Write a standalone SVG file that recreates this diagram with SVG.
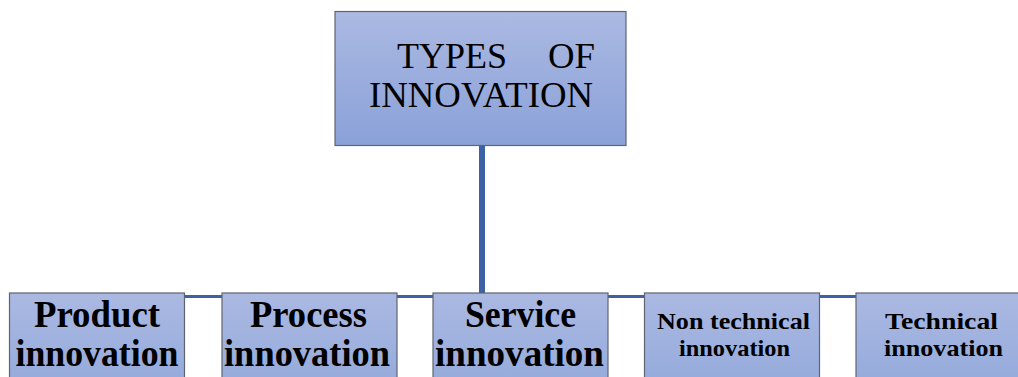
<svg xmlns="http://www.w3.org/2000/svg" width="1018" height="377" viewBox="0 0 1018 377">
<defs>
<linearGradient id="g" x1="0" y1="0" x2="0" y2="1">
<stop offset="0" stop-color="#abb9e2"/>
<stop offset="1" stop-color="#8aa1d8"/>
</linearGradient>
<linearGradient id="gb" x1="0" y1="0" x2="0" y2="1">
<stop offset="0" stop-color="#abb9e2"/>
<stop offset="1" stop-color="#93a9db"/>
</linearGradient>
</defs>
<style>
.box{stroke:#5f6470;stroke-width:1.2}
.t{font-family:"Liberation Serif","Times New Roman",serif;fill:#000}
.big{font-size:37px;font-weight:bold;text-anchor:middle}
.small{font-size:24px;font-weight:bold;text-anchor:middle}
.con{stroke:#3d61a6;fill:none}
</style>
<rect width="1018" height="377" fill="#fff"/>
<g id="connectors">
<line class="con" x1="482" y1="146" x2="482" y2="294" stroke-width="6"/>
<line class="con" x1="97" y1="296.5" x2="943" y2="296.5" stroke-width="3"/>
</g>
<g id="root">
<rect class="box" x="335" y="11.5" width="291" height="134" fill="url(#g)"/>
<text class="t" x="397" y="68" font-size="35" textLength="110" lengthAdjust="spacingAndGlyphs">TYPES</text>
<text class="t" x="548" y="68" font-size="35" textLength="47" lengthAdjust="spacingAndGlyphs">OF</text>
<text class="t" x="369" y="107" font-size="35" textLength="224" lengthAdjust="spacingAndGlyphs">INNOVATION</text>
</g>
<g id="product">
<rect class="box" x="9.5" y="293" width="175" height="100" fill="url(#gb)"/>
<text class="t big" x="97" y="327" textLength="126" lengthAdjust="spacingAndGlyphs">Product</text>
<text class="t big" x="97" y="366" textLength="163" lengthAdjust="spacingAndGlyphs">innovation</text>
</g>
<g id="process">
<rect class="box" x="222" y="293" width="175" height="100" fill="url(#gb)"/>
<text class="t big" x="308.5" y="327" textLength="117" lengthAdjust="spacingAndGlyphs">Process</text>
<text class="t big" x="307" y="366" textLength="166" lengthAdjust="spacingAndGlyphs">innovation</text>
</g>
<g id="service">
<rect class="box" x="433" y="293" width="175" height="100" fill="url(#gb)"/>
<text class="t big" x="520.5" y="327" textLength="111" lengthAdjust="spacingAndGlyphs">Service</text>
<text class="t big" x="519.5" y="366" textLength="169" lengthAdjust="spacingAndGlyphs">innovation</text>
</g>
<g id="nontechnical">
<rect class="box" x="644.5" y="293" width="175" height="100" fill="url(#gb)"/>
<text class="t small" x="733.5" y="329" textLength="153" lengthAdjust="spacingAndGlyphs">Non technical</text>
<text class="t small" x="734.5" y="356" textLength="111" lengthAdjust="spacingAndGlyphs">innovation</text>
</g>
<g id="technical">
<rect class="box" x="856" y="293" width="175" height="100" fill="url(#gb)"/>
<text class="t small" x="941.5" y="329" textLength="113" lengthAdjust="spacingAndGlyphs">Technical</text>
<text class="t small" x="943.5" y="356" textLength="119" lengthAdjust="spacingAndGlyphs">innovation</text>
</g>
</svg>
